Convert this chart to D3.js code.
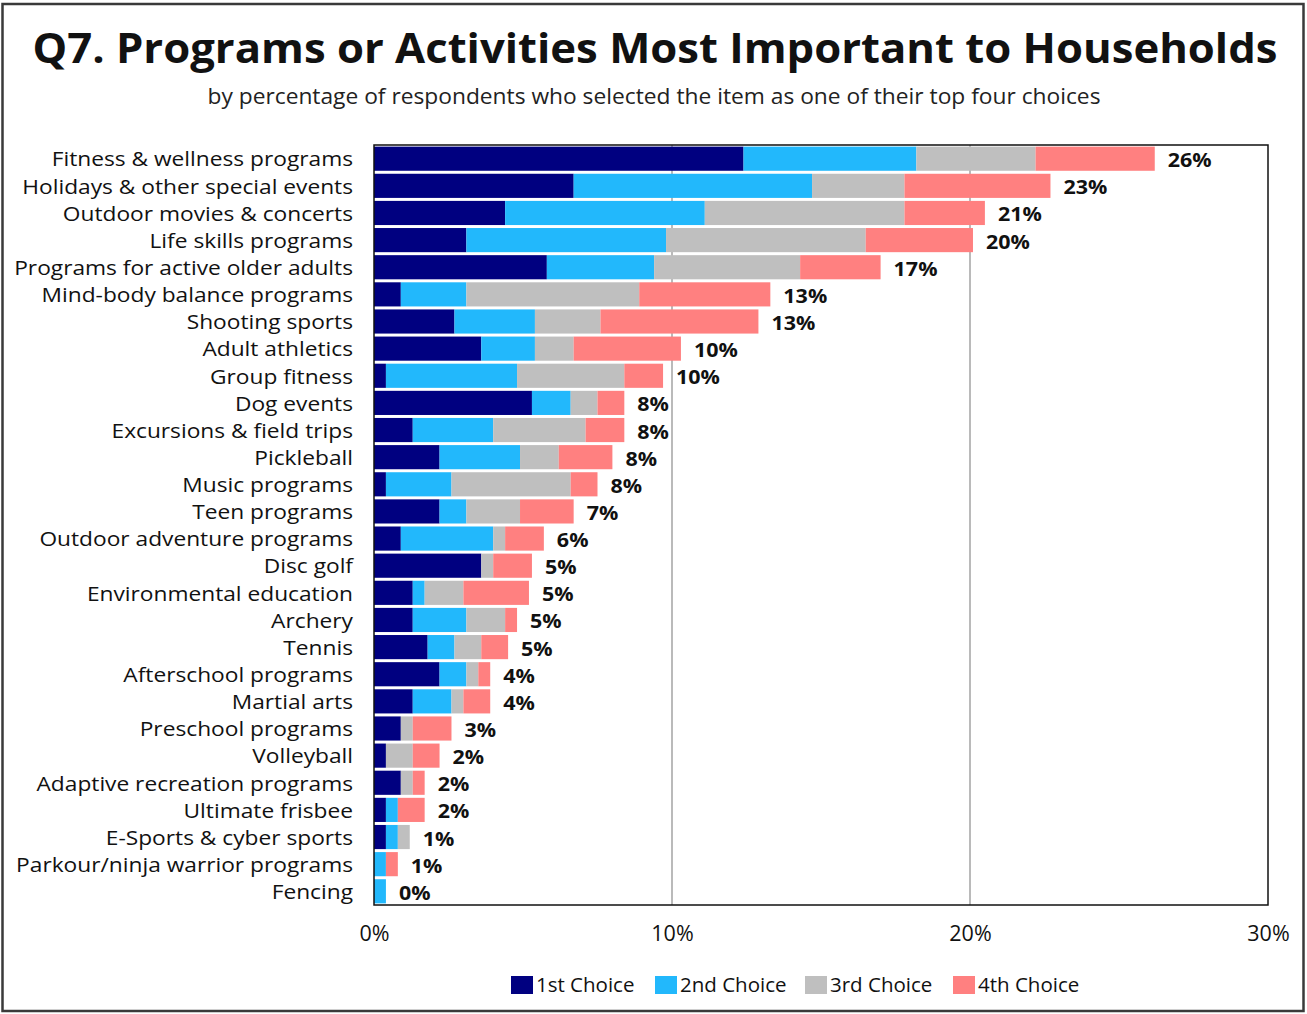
<!DOCTYPE html>
<html>
<head>
<meta charset="utf-8">
<script src="https://cdn.jsdelivr.net/npm/d3@7"></script>
<style>
  html, body { margin: 0; padding: 0; background: #fff; }
  svg { display: block; font-family: "Open Sans", "Noto Sans", sans-serif; }
</style>
</head>
<body>
<svg id="chart" width="1307" height="1014"></svg>
<script>
// Activities, ordered top to bottom
const categories = [
  "Fitness & wellness programs",
  "Holidays & other special events",
  "Outdoor movies & concerts",
  "Life skills programs",
  "Programs for active older adults",
  "Mind-body balance programs",
  "Shooting sports",
  "Adult athletics",
  "Group fitness",
  "Dog events",
  "Excursions & field trips",
  "Pickleball",
  "Music programs",
  "Teen programs",
  "Outdoor adventure programs",
  "Disc golf",
  "Environmental education",
  "Archery",
  "Tennis",
  "Afterschool programs",
  "Martial arts",
  "Preschool programs",
  "Volleyball",
  "Adaptive recreation programs",
  "Ultimate frisbee",
  "E-Sports & cyber sports",
  "Parkour/ninja warrior programs",
  "Fencing"
];

// Percent of respondents per choice rank
const firstChoice  = [12.4, 6.7, 4.4, 3.1, 5.8, 0.9, 2.7, 3.6, 0.4, 5.3, 1.3, 2.2, 0.4, 2.2, 0.9, 3.6, 1.3, 1.3, 1.8, 2.2, 1.3, 0.9, 0.4, 0.9, 0.4, 0.4, 0.0, 0.0];
const secondChoice = [ 5.8, 8.0, 6.7, 6.7, 3.6, 2.2, 2.7, 1.8, 4.4, 1.3, 2.7, 2.7, 2.2, 0.9, 3.1, 0.0, 0.4, 1.8, 0.9, 0.9, 1.3, 0.0, 0.0, 0.0, 0.4, 0.4, 0.4, 0.4];
const thirdChoice  = [ 4.0, 3.1, 6.7, 6.7, 4.9, 5.8, 2.2, 1.3, 3.6, 0.9, 3.1, 1.3, 4.0, 1.8, 0.4, 0.4, 1.3, 1.3, 0.9, 0.4, 0.4, 0.4, 0.9, 0.4, 0.0, 0.4, 0.0, 0.0];
const fourthChoice = [ 4.0, 4.9, 2.7, 3.6, 2.7, 4.4, 5.3, 3.6, 1.3, 0.9, 1.3, 1.8, 0.9, 1.8, 1.3, 1.3, 2.2, 0.4, 0.9, 0.4, 0.9, 1.3, 0.9, 0.4, 0.9, 0.0, 0.4, 0.0];

const seriesNames = ["1st Choice", "2nd Choice", "3rd Choice", "4th Choice"];
const seriesColors = ["#000080", "#22b8fc", "#bfbfbf", "#ff8080"];
const xTicks = [0, 10, 20, 30];

const rows = categories.map((c, i) => ({
  category: c,
  "1st Choice": firstChoice[i],
  "2nd Choice": secondChoice[i],
  "3rd Choice": thirdChoice[i],
  "4th Choice": fourthChoice[i]
}));

const svg = d3.select("#chart");
const W = 1307, H = 1014;

// Widen a text horizontally without growing its line height
function widen(sel, factor) {
  sel.each(function () {
    const len = this.getComputedTextLength();
    d3.select(this)
      .attr("textLength", (len * factor).toFixed(1))
      .attr("lengthAdjust", "spacingAndGlyphs");
  });
}

// Outer frame
svg.append("rect")
  .attr("x", 2.5).attr("y", 4).attr("width", W - 6).attr("height", H - 7)
  .attr("fill", "#fff").attr("stroke", "#3a3a3a").attr("stroke-width", 2.5);

// Titles
svg.append("text")
  .attr("x", 655).attr("y", 63)
  .attr("text-anchor", "middle")
  .attr("font-size", 42).attr("font-weight", 700)
  .attr("textLength", 1245).attr("lengthAdjust", "spacingAndGlyphs")
  .attr("fill", "#111")
  .text("Q7. Programs or Activities Most Important to Households");

svg.append("text")
  .attr("x", 654).attr("y", 104)
  .attr("text-anchor", "middle")
  .attr("font-size", 21)
  .attr("textLength", 893).attr("lengthAdjust", "spacingAndGlyphs")
  .attr("fill", "#222")
  .text("by percentage of respondents who selected the item as one of their top four choices");

const plot = { left: 374, right: 1268, top: 145, bottom: 905 };

const x = d3.scaleLinear().domain([0, 30]).range([plot.left, plot.right]);
const y = d3.scaleBand().domain(categories).range([plot.top, plot.bottom]).paddingInner(0.11).paddingOuter(0.06);
const color = d3.scaleOrdinal().domain(seriesNames).range(seriesColors);

// Vertical gridlines
svg.append("g")
  .selectAll("line")
  .data(xTicks.filter(t => t > 0 && t < 30))
  .join("line")
  .attr("x1", d => x(d)).attr("x2", d => x(d))
  .attr("y1", plot.top).attr("y2", plot.bottom)
  .attr("stroke", "#8c8c8c").attr("stroke-width", 1.2);

// Stacked bars
const stacked = d3.stack().keys(seriesNames)(rows);
svg.append("g")
  .selectAll("g")
  .data(stacked)
  .join("g")
  .attr("fill", d => color(d.key))
  .selectAll("rect")
  .data(d => d)
  .join("rect")
  .attr("x", d => x(d[0]))
  .attr("y", d => y(d.data.category))
  .attr("width", d => Math.max(0, x(d[1]) - x(d[0])))
  .attr("height", y.bandwidth());

// Plot frame
svg.append("rect")
  .attr("x", plot.left).attr("y", plot.top)
  .attr("width", plot.right - plot.left).attr("height", plot.bottom - plot.top)
  .attr("fill", "none").attr("stroke", "#111").attr("stroke-width", 1.5);

// Total labels
const totals = rows.map(r => Math.round(seriesNames.reduce((s, k) => s + r[k], 0) * 10) / 10);
const valueLabels = svg.append("g")
  .selectAll("text")
  .data(rows)
  .join("text")
  .attr("x", (d, i) => x(totals[i]) + 13)
  .attr("y", d => y(d.category) + y.bandwidth() / 2 + 1.5)
  .attr("dy", "0.36em")
  .attr("font-size", 19.5).attr("font-weight", 700).attr("fill", "#111")
  .text((d, i) => Math.round(totals[i]) + "%");
widen(valueLabels, 1.1);

// Category axis
const yAxis = svg.append("g")
  .attr("transform", `translate(${plot.left},1.5)`)
  .call(d3.axisLeft(y).tickSize(0).tickPadding(21));
yAxis.select(".domain").remove();
yAxis.selectAll("text")
  .attr("font-family", "'Open Sans', 'Noto Sans', sans-serif")
  .attr("font-size", 19.5).attr("fill", "#111");
widen(yAxis.selectAll("text"), 1.165);

// Percent axis
const xAxis = svg.append("g")
  .attr("transform", `translate(0,${plot.bottom})`)
  .call(d3.axisBottom(x).tickValues(xTicks).tickFormat(d => d + "%").tickSize(0).tickPadding(21));
xAxis.select(".domain").remove();
xAxis.selectAll("text")
  .attr("font-family", "'Open Sans', 'Noto Sans', sans-serif")
  .attr("font-size", 21.5).attr("fill", "#111");

// Legend
const legendX = [511, 655, 805, 953];
const legend = svg.append("g");
seriesNames.forEach((name, i) => {
  const g = legend.append("g").attr("transform", `translate(${legendX[i]},976)`);
  g.append("rect").attr("width", 22).attr("height", 18).attr("fill", color(name));
  g.append("text").attr("x", 25).attr("y", 9).attr("dy", "0.36em")
    .attr("font-size", 20.5).attr("fill", "#111").text(name);
});
</script>
</body>
</html>
